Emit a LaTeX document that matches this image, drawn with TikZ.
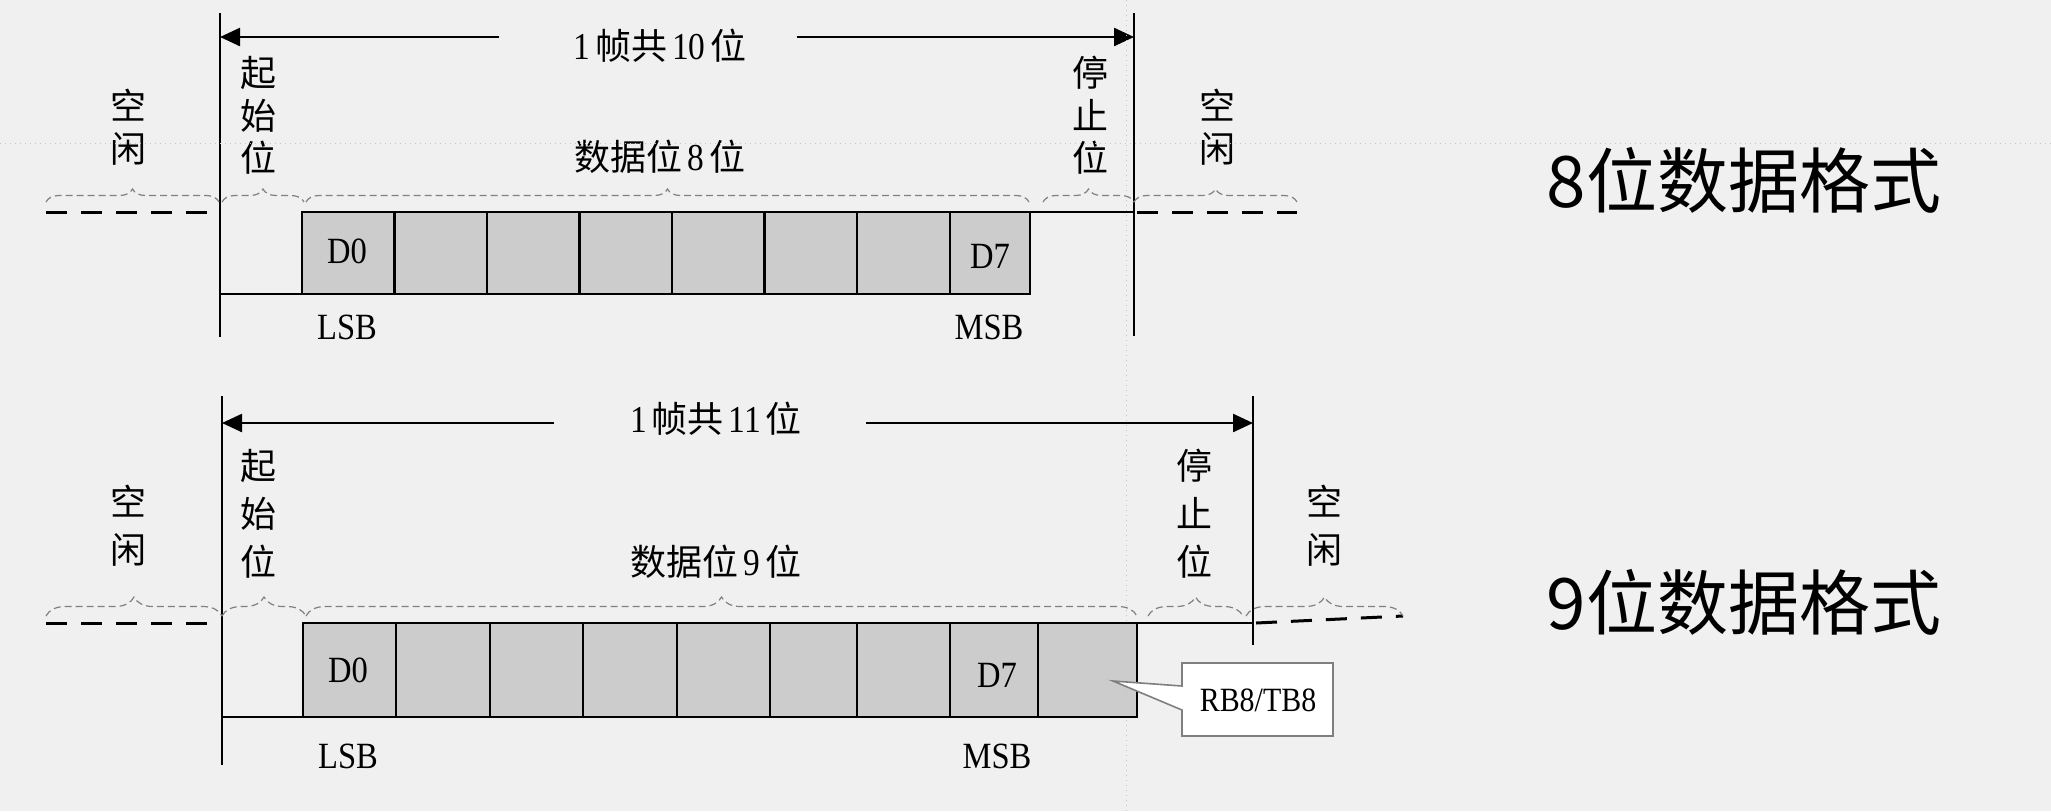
\documentclass[tikz,border=0pt]{standalone}
\usepackage{fontspec}
\setmainfont{Liberation Serif}[FakeStretch=0.88]
\newfontfamily\cjk{Noto Sans CJK SC}
\usetikzlibrary{arrows.meta,decorations.pathreplacing}
\definecolor{bg}{HTML}{F0F0F0}
\definecolor{cellfill}{HTML}{CCCCCC}
\definecolor{bracegray}{HTML}{808080}
\definecolor{guide}{HTML}{C4C4C4}
\definecolor{callborder}{HTML}{7F7F7F}
\newcommand\zh[1]{{\cjk\fontsize{18pt}{18pt}\selectfont #1}}
\newcommand\gp{\hspace{2.5pt}}
\tikzset{
 sig/.style={line width=1.3pt, draw=black},
 idle/.style={line width=1.5pt, draw=black, dash pattern=on 10.5pt off 7pt},
 cell/.style={draw=black, line width=1.3pt, fill=cellfill, inner sep=0pt, outer sep=0pt, minimum height=41pt},
 bitlbl/.style={font=\fontsize{18.5pt}{18.5pt}\selectfont, inner sep=0pt},
 vlbl/.style={font=\cjk\fontsize{18pt}{21.25pt}\selectfont, align=center, inner sep=0pt},
 vlblb/.style={font=\cjk\fontsize{18pt}{24pt}\selectfont, align=center, inner sep=0pt},
 hlbl/.style={font=\fontsize{19pt}{19pt}\selectfont, inner sep=0pt},
 brc/.style={decorate, decoration={brace, amplitude=#1}, draw=bracegray, line width=0.6pt, dash pattern=on 3.5pt off 2pt},
 framearrow/.style={line width=1.2pt, draw=black, -{Triangle[length=10pt,width=9pt]}},
 fmttitle/.style={font=\cjk\fontsize{35.5pt}{35.5pt}\selectfont, inner sep=0pt},
 guideline/.style={draw=guide, line width=0.5pt, dotted},
 callout/.style={fill=white, draw=callborder, line width=0.8pt},
}
\begin{document}
\begin{tikzpicture}[x=0.5pt,y=-0.5pt]
\fill[bg] (0,0) rectangle (2051,811);
\useasboundingbox (0,0) rectangle (2051,811);

% ================= top: 8-bit format =================
\coordinate (tvlT) at (220,13);  \coordinate (tvlB) at (220,337);
\coordinate (tvrT) at (1134,13); \coordinate (tvrB) at (1134,336);
\draw[sig] (tvlT) -- (tvlB);
\draw[sig] (tvrT) -- (tvrB);

\node[hlbl] (tframe) at (660,46) {1\gp\zh{帧共}\gp10\gp\zh{位}};
\coordinate (taL) at (499,37);  \coordinate (taLend) at (220,37);
\coordinate (taR) at (797,37);  \coordinate (taRend) at (1134,37);
\draw[framearrow] (taL) -- (taLend);
\draw[framearrow] (taR) -- (taRend);

\foreach \a/\b [count=\i] in {302/394.5,394.5/487,487/579.5,579.5/672,672/764.5,764.5/857,857/950,950/1030}
  \node[cell, minimum width={(\b-\a)*0.5pt}] (t\i) at ({(\a+\b)/2},253) {};
\node[bitlbl] (td0) at (347,251) {D0};
\node[bitlbl] (td7) at (990,256) {D7};
\node[bitlbl] (tlsb) at (347,327) {LSB};
\node[bitlbl] (tmsb) at (989,327) {MSB};

\coordinate (tlow) at (220,294);
\coordinate (thigh) at (1134,212);
\draw[sig] (tlow) -- (t1.south west);
\draw[sig] (t8.north east) -- (thigh);

\coordinate (tidA) at (46,212);   \coordinate (tidB) at (210,212);
\coordinate (tidC) at (1137,212); \coordinate (tidD) at (1297,212);
\draw[idle] (tidA) -- (tidB);
\draw[idle] (tidC) -- (tidD);

\draw[brc=6.5pt] (46,202) -- (219,202);
\draw[brc=6.5pt] (222,202) -- (304,202);
\draw[brc=6.5pt] (306,202) -- (1029,202);
\draw[brc=6.5pt] (1043,202) -- (1134,202);
\draw[brc=6.5pt] (1134,202) -- (1297,202);

\node[vlbl] (tidle1) at (128,127) {空\\闲};
\node[vlbl] (tstart) at (258,115.5) {起\\始\\位};
\node[hlbl] (tdata) at (660,157) {\zh{数据位}\gp8\gp\zh{位}};
\node[vlbl] (tstop) at (1090,115.5) {停\\止\\位};
\node[vlbl] (tidle2) at (1217,127) {空\\闲};

\node[fmttitle] (fmt8) at (1744,180) {8位数据格式};

% ================= bottom: 9-bit format =================
\coordinate (bvlT) at (222,396);  \coordinate (bvlB) at (222,765);
\coordinate (bvrT) at (1253,396); \coordinate (bvrB) at (1253,645);
\draw[sig] (bvlT) -- (bvlB);
\draw[sig] (bvrT) -- (bvrB);

\node[hlbl] (bframe) at (716,419) {1\gp\zh{帧共}\gp11\gp\zh{位}};
\coordinate (baL) at (554,423);  \coordinate (baLend) at (222,423);
\coordinate (baR) at (866,423);  \coordinate (baRend) at (1253,423);
\draw[framearrow] (baL) -- (baLend);
\draw[framearrow] (baR) -- (baRend);

\foreach \a/\b [count=\i] in {303/396,396/490,490/583,583/677,677/770,770/857,857/950,950/1038,1038/1137}
  \node[cell, minimum width={(\b-\a)*0.5pt}, minimum height=47pt] (b\i) at ({(\a+\b)/2},670) {};
\node[bitlbl] (bd0) at (348,670) {D0};
\node[bitlbl] (bd7) at (997,675) {D7};
\node[bitlbl] (blsb) at (348,756) {LSB};
\node[bitlbl] (bmsb) at (997,756) {MSB};

\coordinate (blow) at (222,717);
\coordinate (bhigh) at (1253,623);
\draw[sig] (blow) -- (b1.south west);
\draw[sig] (b9.north east) -- (bhigh);

\coordinate (bidA) at (46,623);   \coordinate (bidB) at (211,623);
\coordinate (bidC) at (1256,623); \coordinate (bidD) at (1403,616);
\draw[idle] (bidA) -- (bidB);
\draw[idle] (bidC) -- (bidD);

\draw[brc=9.5pt] (46,616) -- (222,616);
\draw[brc=9.5pt] (222,616) -- (306,616);
\draw[brc=9.5pt] (306,616) -- (1137,616);
\draw[brc=9.5pt] (1148,616) -- (1243,616);
\draw[brc=9.5pt] (1246,616) -- (1403,616);

\node[vlblb] (bidle1) at (128,526) {空\\闲};
\node[vlblb] (bstart) at (258,514) {起\\始\\位};
\node[hlbl] (bdata) at (716,562) {\zh{数据位}\gp9\gp\zh{位}};
\node[vlblb] (bstop) at (1194,514) {停\\止\\位};
\node[vlblb] (bidle2) at (1324,526) {空\\闲};

\draw[callout] (1182,663) -- (1333,663) -- (1333,736) -- (1182,736) -- (1182,710) -- (1113,681) -- (1182,686) -- cycle;
\node[bitlbl, font=\fontsize{17pt}{17pt}\selectfont] (rbtb) at (1258,700) {RB8/TB8};

\node[fmttitle] (fmt9) at (1744,602) {9位数据格式};

% guides
\draw[guideline] (0,143) -- (2051,143);
\draw[guideline] (1126,0) -- (1126,811);
\end{tikzpicture}
\end{document}
